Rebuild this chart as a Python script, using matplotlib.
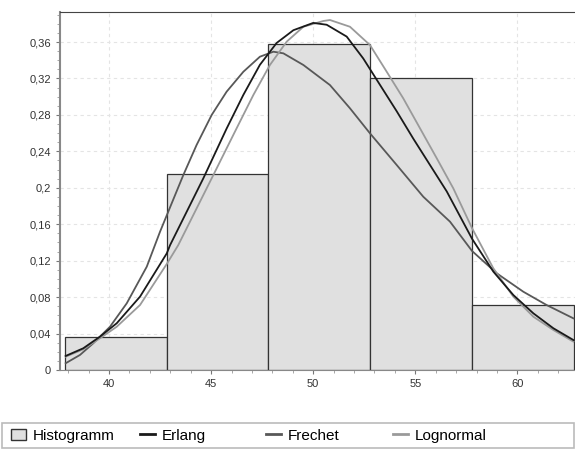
import matplotlib.pyplot as plt
from matplotlib.ticker import MultipleLocator, FuncFormatter
from matplotlib.patches import Patch, Rectangle
from matplotlib.lines import Line2D

plt.rcParams['font.family'] = ['Liberation Sans', 'DejaVu Sans']

# histogram bins (left edge) and relative frequencies
bin_left = [37.85, 42.83, 47.8, 52.8, 57.78]
bin_width = 4.97
hist_vals = [0.036, 0.215, 0.358, 0.321, 0.071]

# fitted curves, points
erlang_x = [37.88, 38.74, 39.56, 40.38, 41.52, 42.83, 42.99, 44.62, 45.76,
            46.58, 47.39, 48.21, 49.03, 50.0, 50.66, 51.64, 52.45, 53.27,
            54.09, 54.90, 55.72, 56.54, 57.78, 58.82, 59.80, 60.78, 61.76, 62.74]
erlang_y = [0.0154, 0.0238, 0.0366, 0.0513, 0.0805, 0.128, 0.137, 0.2104, 0.265,
            0.302, 0.335, 0.359, 0.373, 0.381, 0.379, 0.366, 0.342, 0.313,
            0.284, 0.254, 0.225, 0.196, 0.144, 0.108, 0.0823, 0.0622, 0.0458, 0.0329]

frechet_x = [37.88, 38.58, 39.23, 40.05, 40.87, 41.85, 42.50, 43.64, 44.29,
             45.03, 45.76, 46.58, 47.39, 48.05, 48.54, 49.52, 50.82, 51.80,
             52.78, 54.09, 55.39, 56.70, 57.78, 58.99, 60.29, 61.43, 62.74]
frechet_y = [0.0074, 0.0165, 0.0293, 0.0475, 0.0732, 0.1134, 0.1518, 0.214, 0.247,
             0.280, 0.3055, 0.3274, 0.3439, 0.3494, 0.3476, 0.3348, 0.3128, 0.2873,
             0.2598, 0.225, 0.1902, 0.1628, 0.1306, 0.1061, 0.0859, 0.0713, 0.0567]

logn_x = [37.88, 38.74, 39.56, 40.38, 41.52, 42.83, 43.39, 45.11, 46.25,
          47.07, 47.88, 48.70, 49.52, 50.49, 50.82, 51.80, 52.78, 53.60,
          54.41, 55.23, 56.05, 56.86, 57.78, 58.82, 59.80, 60.78, 61.76, 62.74]
logn_y = [0.0146, 0.0227, 0.0348, 0.0475, 0.0713, 0.1164, 0.137, 0.214, 0.2653,
          0.3019, 0.3348, 0.3604, 0.3768, 0.3831, 0.3842, 0.3768, 0.3567, 0.3274,
          0.2982, 0.2653, 0.2324, 0.1994, 0.1556, 0.1116, 0.0805, 0.0585, 0.0439, 0.0311]

c_erlang = '#1a1a1a'
c_frechet = '#585858'
c_logn = '#9a9a9a'

fig = plt.figure(figsize=(5.75, 4.49), dpi=100)
ax = fig.add_axes([0.1043, 0.176, 0.8957, 0.7973])

ax.bar(bin_left, hist_vals, width=bin_width, align='edge',
       color='#e0e0e0', edgecolor='#333333', linewidth=0.9, zorder=2)

ax.plot(frechet_x, frechet_y, color=c_frechet, lw=1.3, zorder=3)
ax.plot(logn_x, logn_y, color=c_logn, lw=1.3, zorder=3)
ax.plot(erlang_x, erlang_y, color=c_erlang, lw=1.3, zorder=4)

ax.set_xlim(37.6, 62.82)
ax.set_ylim(0, 0.393)

ax.xaxis.set_major_locator(MultipleLocator(5))
ax.xaxis.set_minor_locator(MultipleLocator(1))
ax.yaxis.set_major_locator(MultipleLocator(0.04))
ax.yaxis.set_minor_locator(MultipleLocator(0.01))
ax.yaxis.set_major_formatter(FuncFormatter(lambda v, p: ('%g' % round(v, 2)).replace('.', ',')))

ax.tick_params(which='major', length=3, color='#777777', labelsize=8, labelcolor='#333333')
ax.tick_params(which='minor', length=2, color='#999999')

ax.grid(True, which='major', color='#e4e4e4', linestyle=(0, (3, 3)), linewidth=0.8, zorder=0)
ax.set_axisbelow(True)

ax.spines['right'].set_visible(False)
ax.spines['top'].set_color('#444444')
ax.spines['left'].set_color('#888888')
ax.spines['left'].set_linewidth(1.5)
ax.spines['bottom'].set_color('#888888')

# legend box across the bottom
fig.patches.append(Rectangle((0.004, 0.003), 0.994, 0.054, transform=fig.transFigure,
                             facecolor='white', edgecolor='#bbbbbb', linewidth=1.2))

handles = [Patch(facecolor='#e0e0e0', edgecolor='#333333', label='Histogramm'),
           Line2D([], [], color=c_erlang, lw=2, label='Erlang'),
           Line2D([], [], color=c_frechet, lw=2, label='Frechet'),
           Line2D([], [], color=c_logn, lw=2, label='Lognormal')]
# one small legend per entry so the entries sit where the original has them
leg_x = [11, 140, 266, 393]
for h, x0 in zip(handles, leg_x):
    fig.legend(handles=[h], loc='center left', bbox_to_anchor=(x0 / 575, 0.030),
               frameon=False, fontsize=11, handlelength=1.0, handletextpad=0.4,
               borderpad=0, borderaxespad=0)

fig.savefig('out.png', dpi=100)
